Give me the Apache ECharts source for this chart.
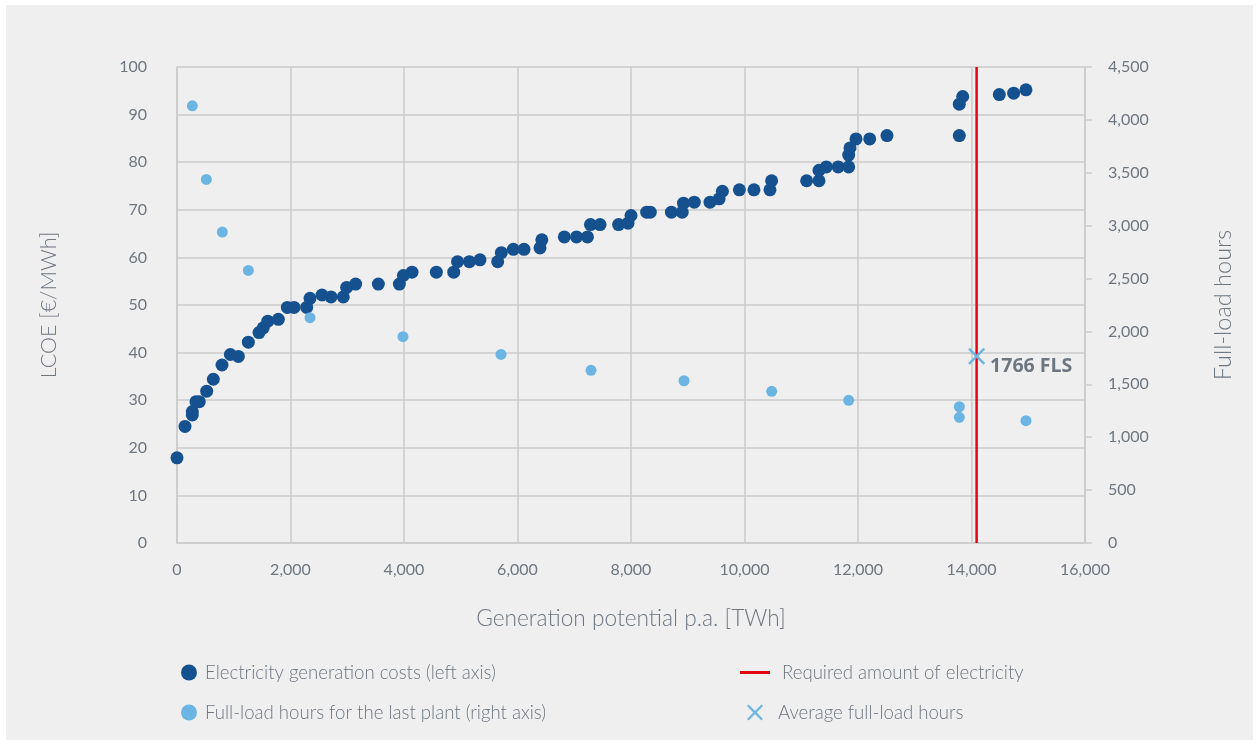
<!DOCTYPE html>
<html>
<head>
<meta charset="utf-8">
<script src="https://cdn.jsdelivr.net/npm/echarts@6/dist/echarts.min.js"></script>
<style>
html,body{margin:0;padding:0;background:#fff;}
#c{width:1259px;height:745px;}
</style>
</head>
<body>
<div id="c"></div>
<script>
// ---- data ----
const costLabel = 'Electricity generation costs (left axis)';
const flhLabel = 'Full-load hours for the last plant (right axis)';
const reqLabel = 'Required amount of electricity';
const avgLabel = 'Average full-load hours';

const costPoints = [
  [0,17.9],[141,24.5],[270,26.9],[270,27.6],[335,29.7],[393,29.7],[523,31.9],[640,34.4],
  [793,37.4],[940,39.6],[1081,39.2],[1257,42.2],[1445,44.2],[1520,45.2],[1600,46.6],
  [1786,47.0],[1944,49.5],[2062,49.5],[2285,49.5],[2344,51.4],[2555,52.1],[2714,51.7],
  [2930,51.7],[2990,53.7],[3148,54.4],[3548,54.4],[3918,54.4],[3989,56.2],[4141,56.9],
  [4570,56.9],[4876,56.9],[4943,59.1],[5152,59.1],[5339,59.5],[5651,59.1],[5715,61.0],
  [5927,61.7],[6115,61.7],[6397,62.0],[6429,63.7],[6825,64.3],[7040,64.3],[7233,64.3],
  [7286,66.9],[7454,66.9],[7781,66.9],[7947,67.2],[8000,68.8],[8276,69.5],[8340,69.5],
  [8712,69.5],[8902,69.5],[8925,71.4],[9115,71.6],[9392,71.6],[9553,72.3],[9611,73.9],
  [9910,74.2],[10167,74.2],[10449,74.2],[10478,76.1],[11095,76.1],[11313,76.1],[11313,78.3],
  [11442,79.0],[11650,79.0],[11836,79.0],[11836,81.5],[11859,83.0],[11965,84.9],[12206,84.9],
  [12511,85.6],[13785,85.6],[13785,92.2],[13845,93.8],[14490,94.2],[14743,94.5],[14960,95.2]
];
const flhPoints = [
  [270,4133],[517,3437],[799,2939],[1257,2577],[2344,2130],[3982,1950],[5709,1783],
  [7295,1632],[8934,1534],[10479,1434],[11836,1349],[13786,1288],[13786,1188],[14960,1156]
];
const requiredAmount = 14090;
const avgFlh = [14090, 1766];
const avgFlhText = '1766 FLS';

const xTicks = {min:0, max:16000, interval:2000};
const yLeftTicks = {min:0, max:100, interval:10};
const yRightTicks = {min:0, max:4500, interval:500};

// ---- styles ----
const dark = '#15508f';
const light = '#6cb5e3';
const red = '#e30613';
const txt = '#6e7680';
const grid = '#cbcbcb';
const font = 'Lato';
const xPath = 'path://M0,1L1,0L5,4L9,0L10,1L6,5L10,9L9,10L5,6L1,10L0,9L4,5Z';
const fmt = v => v.toLocaleString('en-US');
const legendText = {fontSize:18.6, color:txt, fontFamily:font, fontWeight:300};

const chart = echarts.init(document.getElementById('c'), null, {renderer:'canvas'});
chart.setOption({
  backgroundColor:'#ffffff',
  animation:false,
  textStyle:{fontFamily:font},
  graphic:[{type:'rect', z:-10, silent:true, shape:{x:6,y:5,width:1247,height:735}, style:{fill:'#efefef'}}],
  grid:{left:177, right:174, top:67, bottom:202},
  xAxis:{
    type:'value', min:xTicks.min, max:xTicks.max, interval:xTicks.interval,
    name:'Generation potential p.a. [TWh]', nameLocation:'middle', nameGap:64,
    nameTextStyle:{fontSize:22.7, color:txt, fontFamily:font, fontWeight:300},
    axisLine:{show:true, lineStyle:{color:grid, width:1.5}},
    axisTick:{show:false},
    axisLabel:{formatter:fmt, fontSize:16, color:txt, margin:19, fontFamily:font},
    splitLine:{show:true, lineStyle:{color:grid, width:1.5}}
  },
  yAxis:[{
    type:'value', min:yLeftTicks.min, max:yLeftTicks.max, interval:yLeftTicks.interval,
    name:'LCOE [€/MWh]', nameLocation:'middle', nameGap:117, nameRotate:90,
    nameTextStyle:{fontSize:21.5, color:txt, fontFamily:font, fontWeight:300},
    axisLine:{show:true, lineStyle:{color:grid, width:1.5}},
    axisTick:{show:false},
    axisLabel:{fontSize:16, color:txt, margin:30, fontFamily:font},
    splitLine:{show:true, lineStyle:{color:grid, width:1.5}}
  },{
    type:'value', position:'right', min:yRightTicks.min, max:yRightTicks.max, interval:yRightTicks.interval,
    name:'Full-load hours', nameLocation:'middle', nameGap:126, nameRotate:90,
    nameTextStyle:{fontSize:23.5, color:txt, fontFamily:font, fontWeight:300},
    axisLine:{show:true, lineStyle:{color:grid, width:1.5}},
    axisTick:{show:true, length:7, lineStyle:{color:grid, width:1.5}},
    axisLabel:{formatter:fmt, fontSize:16, color:txt, margin:23, fontFamily:font},
    splitLine:{show:false}
  }],
  legend:[
    {left:176, top:658, itemWidth:16, itemHeight:16, data:[{name:costLabel, icon:'circle'}],
     textStyle:Object.assign({padding:[0,0,0,3]}, legendText)},
    {left:176, top:698, itemWidth:16, itemHeight:16, data:[{name:flhLabel, icon:'circle'}],
     textStyle:Object.assign({padding:[0,0,0,3]}, legendText)},
    {left:735, top:658, itemWidth:30, itemHeight:3, data:[{name:reqLabel, icon:'rect'}],
     textStyle:Object.assign({padding:[0,0,0,7]}, legendText)},
    {left:742, top:698, itemWidth:16, itemHeight:16, data:[{name:avgLabel, icon:xPath}],
     textStyle:Object.assign({padding:[0,0,0,10]}, legendText)}
  ],
  series:[
    {name:costLabel, type:'scatter', yAxisIndex:0, data:costPoints, symbolSize:13,
     itemStyle:{color:dark, opacity:1}, z:3},
    {name:flhLabel, type:'scatter', yAxisIndex:1, data:flhPoints, symbolSize:11,
     itemStyle:{color:light, opacity:1}, z:3},
    {name:reqLabel, type:'line', yAxisIndex:0, data:[[requiredAmount,yLeftTicks.min],[requiredAmount,yLeftTicks.max]],
     symbol:'none', lineStyle:{color:red, width:2.5}, itemStyle:{color:red}, z:4},
    {name:avgLabel, type:'scatter', yAxisIndex:1, data:[avgFlh], symbol:xPath, symbolSize:17,
     itemStyle:{color:light, opacity:1}, z:5,
     label:{show:true, position:'right', distance:5, formatter:avgFlhText, fontSize:19.5, fontWeight:'bold',
            color:txt, fontFamily:'Open Sans', offset:[0,10]}}
  ]
});
</script>
</body>
</html>
